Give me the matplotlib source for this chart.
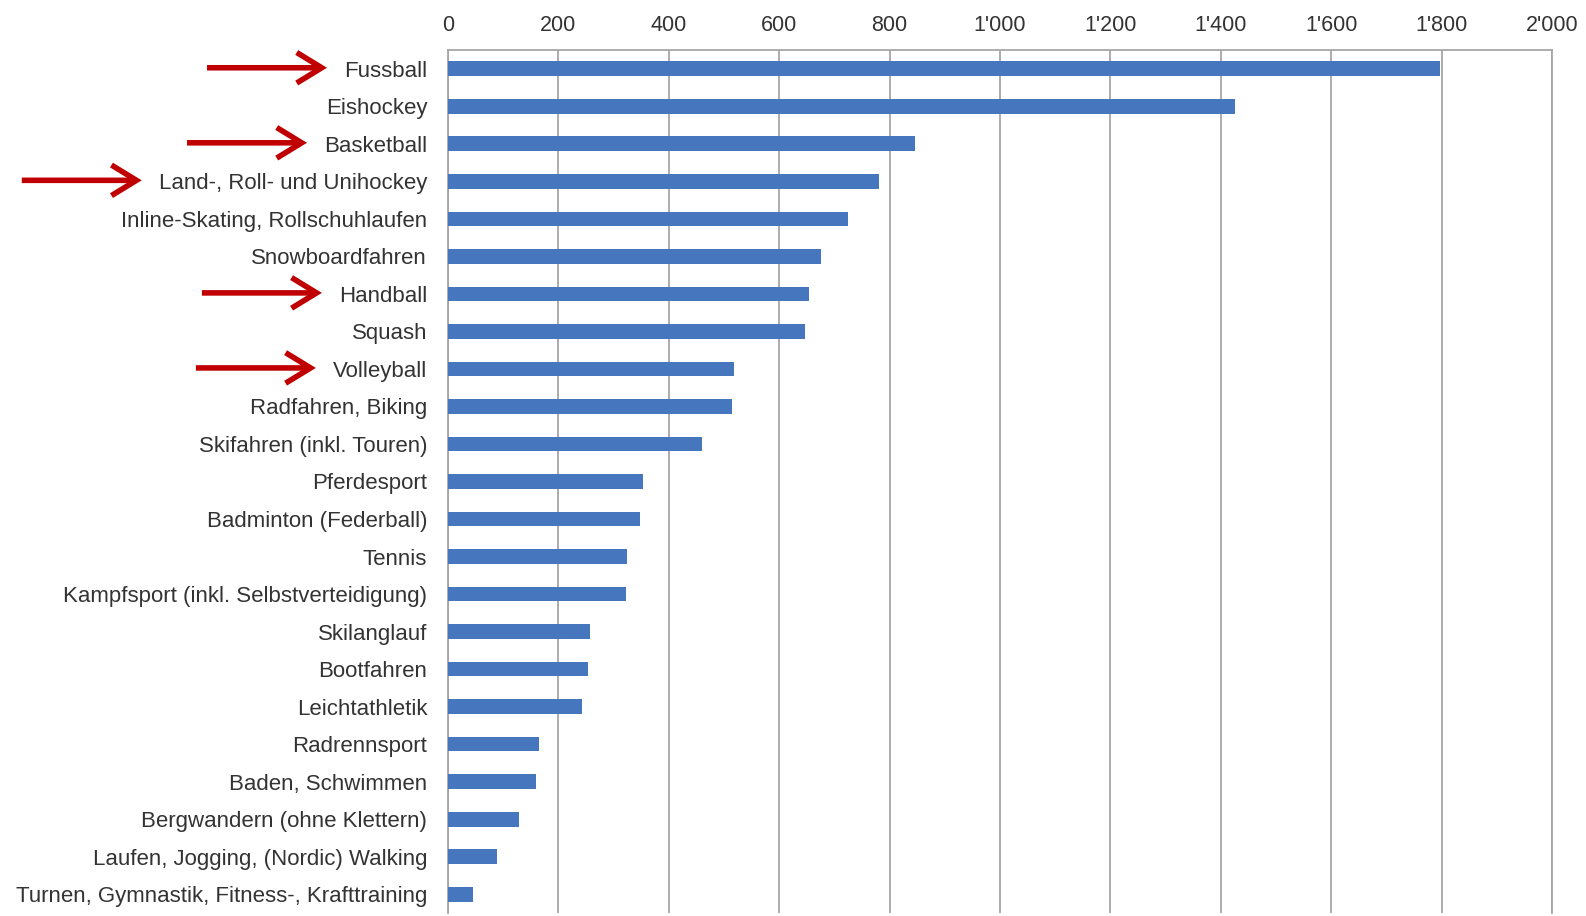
import matplotlib
matplotlib.use("Agg")
import matplotlib.pyplot as plt
from matplotlib.ticker import FuncFormatter, MultipleLocator
from matplotlib.patches import FancyArrowPatch

categories = [
    "Fussball", "Eishockey", "Basketball", "Land-, Roll- und Unihockey",
    "Inline-Skating, Rollschuhlaufen", "Snowboardfahren", "Handball", "Squash",
    "Volleyball", "Radfahren, Biking", "Skifahren (inkl. Touren)", "Pferdesport",
    "Badminton (Federball)", "Tennis", "Kampfsport (inkl. Selbstverteidigung)",
    "Skilanglauf", "Bootfahren", "Leichtathletik", "Radrennsport",
    "Baden, Schwimmen", "Bergwandern (ohne Klettern)",
    "Laufen, Jogging, (Nordic) Walking",
    "Turnen, Gymnastik, Fitness-, Krafttraining",
]
values = [1798, 1426, 846, 781, 724, 675, 654, 646, 519, 515, 460, 353, 347,
          324, 323, 257, 254, 242, 165, 160, 129, 88, 45]
highlighted = ["Fussball", "Basketball", "Land-, Roll- und Unihockey",
               "Handball", "Volleyball"]

plt.rcParams['font.family'] = ['Liberation Sans', 'DejaVu Sans']

W, H, DPI = 1586, 916, 100
fig = plt.figure(figsize=(W / DPI, H / DPI), dpi=DPI)
ax = fig.add_axes([448 / W, 1 - 913 / H, (1552 - 448) / W, (913 - 50) / H])

ypos = list(range(len(categories)))
ax.barh(ypos, values, height=0.39, color='#4677BE', zorder=3)
ax.set_yticks(ypos)
ax.set_yticklabels(categories)
ax.set_ylim(len(categories) - 0.5, -0.5)
ax.set_xlim(0, 2000)
ax.xaxis.set_major_locator(MultipleLocator(200))


def fmt(v, pos):
    v = int(round(v))
    return f"{v:,}".replace(",", "'")


ax.xaxis.set_major_formatter(FuncFormatter(fmt))
ax.xaxis.tick_top()
ax.tick_params(axis='x', length=0, pad=10, labelsize=15.5, colors='#333333')
ax.tick_params(axis='y', length=0, pad=15, labelsize=16, colors='#333333')
ax.grid(axis='x', color='#a6a6a6', lw=1.3, zorder=0)
ax.grid(axis='y', visible=False)
for side in ['top', 'left', 'right']:
    ax.spines[side].set_color('#a6a6a6')
    ax.spines[side].set_linewidth(1.3)
ax.spines['bottom'].set_visible(False)

# red arrows pointing at highlighted labels
fig.canvas.draw()
renderer = fig.canvas.get_renderer()
for y, lab in zip(ypos, ax.get_yticklabels()):
    if lab.get_text() in highlighted:
        bb = lab.get_window_extent(renderer)
        yc = ax.transData.transform((0, y))[1] + 1
        x_tip = bb.x0 - 17
        x_tail = x_tip - 120
        arr = FancyArrowPatch((x_tail, yc), (x_tip, yc),
                              transform=None,
                              arrowstyle='->,head_length=0.9,head_width=0.55',
                              mutation_scale=20, lw=4, color='#C00000',
                              shrinkA=0, shrinkB=0, capstyle='butt',
                              joinstyle='miter')
        fig.patches.append(arr)

fig.savefig('out.png', dpi=DPI)
